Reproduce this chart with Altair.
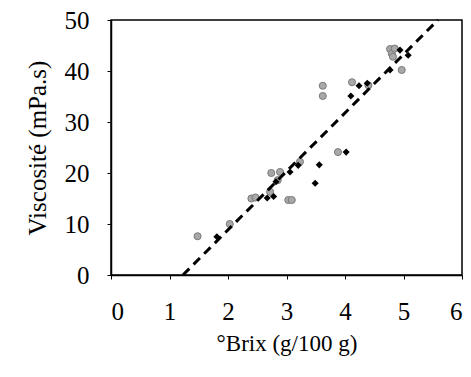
import altair as alt
import pandas as pd

# Gray circle series
gray_x = [1.48, 2.03, 2.40, 2.47, 2.72, 2.74, 2.85, 2.89, 3.03, 3.09, 3.23, 3.62, 3.62,
          3.88, 4.12, 4.40, 4.77, 4.80, 4.85, 4.82, 4.97]
gray_y = [7.6, 10.0, 15.0, 15.2, 16.3, 20.0, 18.6, 20.2, 14.7, 14.7, 22.2, 37.1, 35.1,
          24.1, 37.8, 37.2, 44.3, 43.4, 44.4, 42.8, 40.2]

# Black diamond series
black_x = [1.81, 2.67, 2.78, 2.82, 3.06, 3.20, 3.49, 3.56, 4.02, 4.10, 4.24, 4.38,
           4.77, 4.94, 5.08]
black_y = [7.5, 15.1, 15.4, 18.3, 20.2, 21.5, 18.0, 21.6, 24.1, 35.1, 37.1, 37.6,
           40.2, 44.1, 43.1]

# Regression line
fit_slope = 11.47
fit_intercept = -14.1
fit_x = [1.23, 5.59]

FONT = "Liberation Serif, 'DejaVu Serif', Times New Roman, serif"
FS = 25

gray_df = pd.DataFrame({"x": gray_x, "y": gray_y})
black_df = pd.DataFrame({"x": black_x, "y": black_y})
line_df = pd.DataFrame({"x": fit_x, "y": [fit_slope * v + fit_intercept for v in fit_x]})

xs = alt.Scale(domain=[0, 6], nice=False)
ys = alt.Scale(domain=[0, 50], nice=False)

common = dict(grid=False, tickSize=4, labelFont=FONT, titleFont=FONT, labelFontSize=FS,
              labelColor="black", titleColor="black",
              titleFontWeight="normal", domainColor="black", domainWidth=1.5,
              tickColor="black", tickWidth=1, format="d")

xaxis = alt.Axis(title="°Brix (g/100 g)", values=[0, 1, 2, 3, 4, 5, 6],
                 labelPadding=20, titlePadding=8, titleFontSize=23, **common)
yaxis = alt.Axis(title="Viscosité (mPa.s)", values=[0, 10, 20, 30, 40, 50],
                 labelPadding=18, titlePadding=14, titleFontSize=25, **common)

gray = alt.Chart(gray_df).mark_point(
    shape="circle", filled=True, size=50, color="#a8a8a8", stroke="#7a7a7a", strokeWidth=1, opacity=1
).encode(
    x=alt.X("x:Q", scale=xs, axis=xaxis),
    y=alt.Y("y:Q", scale=ys, axis=yaxis),
)

black = alt.Chart(black_df).mark_point(
    shape="diamond", filled=True, size=50, color="black", opacity=1
).encode(x=alt.X("x:Q", scale=xs), y=alt.Y("y:Q", scale=ys))

line = alt.Chart(line_df).mark_line(
    color="black", strokeWidth=3, strokeDash=[9, 6]
).encode(x=alt.X("x:Q", scale=xs), y=alt.Y("y:Q", scale=ys))

chart = alt.layer(gray, black, line).properties(
    width=351, height=255,
    autosize=alt.AutoSizeParams(type="none"),
    padding={"left": 103, "top": 12, "right": 1, "bottom": 94},
    background="white",
).configure_view(
    stroke="black", strokeWidth=1.5
)

chart.save("out.html", embed_options={"renderer": "svg", "actions": False})
